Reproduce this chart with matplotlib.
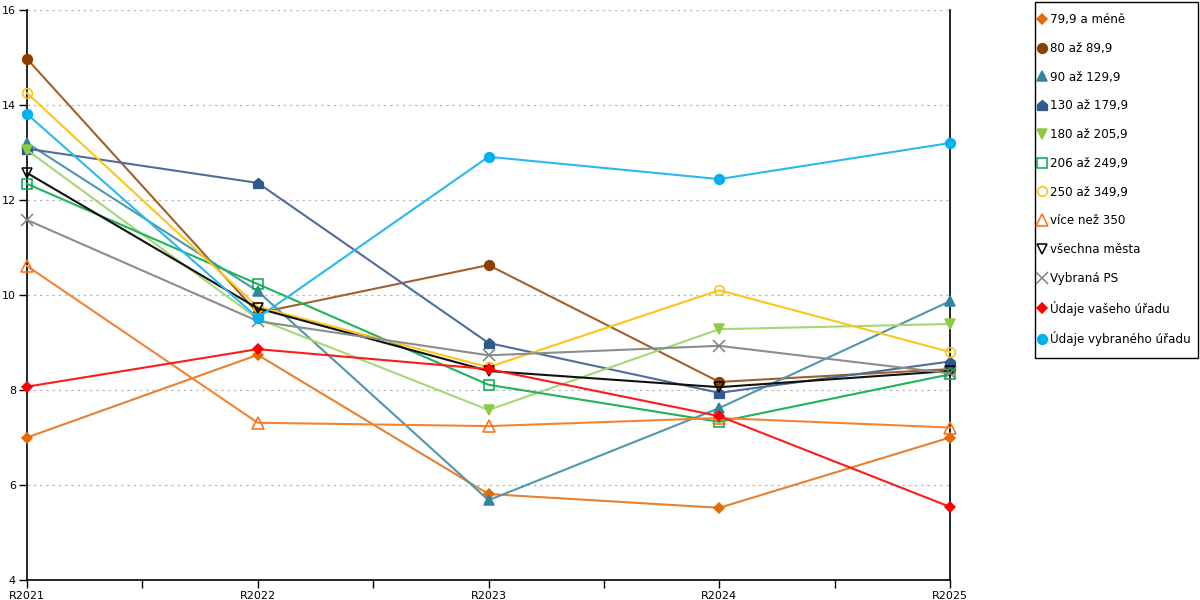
import matplotlib
matplotlib.use("Agg")
import matplotlib.pyplot as plt
from matplotlib.path import Path
from matplotlib.lines import Line2D
from matplotlib.patches import Rectangle

categories = ["R2021", "R2022", "R2023", "R2024", "R2025"]

s_79 = [7.00, 8.74, 5.81, 5.52, 7.00]
s_80 = [14.97, 9.62, 10.63, 8.17, 8.44]
s_90 = [13.20, 10.08, 5.68, 7.62, 9.87]
s_130 = [13.08, 12.36, 8.99, 7.94, 8.60]
s_180 = [13.05, 9.50, 7.58, 9.28, 9.39]
s_206 = [12.34, 10.23, 8.11, 7.33, 8.33]
s_250 = [14.25, 9.75, 8.48, 10.10, 8.80]
s_350 = [10.61, 7.31, 7.24, 7.41, 7.21]
s_all = [12.57, 9.72, 8.40, 8.06, 8.40]
s_ps = [11.58, 9.45, 8.73, 8.93, 8.35]
s_vas = [8.07, 8.86, 8.44, 7.45, 5.54]
s_vyb = [13.81, 9.52, 12.91, 12.44, 13.20]

labels = ["79,9 a méně", "80 až 89,9", "90 až 129,9", "130 až 179,9",
          "180 až 205,9", "206 až 249,9", "250 až 349,9", "více než 350",
          "všechna města", "Vybraná PS", "Údaje vašeho úřadu",
          "Údaje vybraného úřadu"]
series = [s_79, s_80, s_90, s_130, s_180, s_206, s_250, s_350, s_all, s_ps,
          s_vas, s_vyb]

house = Path([(-1, -1), (1, -1), (1, 0.15), (0, 1), (-1, 0.15), (-1, -1)],
             [Path.MOVETO, Path.LINETO, Path.LINETO, Path.LINETO, Path.LINETO,
              Path.CLOSEPOLY])

# (line colour, marker colour, marker, filled, marker size)
styles = [
    ("#E8802E", "#E36C0A", "D", True, 5.5),
    ("#A0602E", "#8B4000", "o", True, 7),
    ("#4E97AC", "#31859C", "^", True, 7.5),
    ("#4D6E9C", "#2E5A8C", house, True, 7),
    ("#A4D873", "#8CCC45", "v", True, 7.5),
    ("#1FB35A", "#00A84F", "s", False, 7),
    ("#FFC41A", "#FFC000", "o", False, 7),
    ("#F58233", "#FF6A10", "^", False, 8),
    ("#111111", "#000000", "v", False, 7.5),
    ("#8C8C8C", "#808080", "x", True, 8),
    ("#FF1A1A", "#FF0000", "D", True, 5.5),
    ("#29B8F0", "#00B0F0", "o", True, 7),
]

plt.rcParams["font.family"] = ["DejaVu Sans"]
fig = plt.figure(figsize=(12, 6), dpi=100)
ax = fig.add_axes([27 / 1200, 20 / 600, (950 - 27) / 1200, 570 / 600])

x = list(range(len(categories)))
handles = []
for data, lab, (lc, mc, mk, filled, ms) in zip(series, labels, styles):
    face = mc if filled else "none"
    ax.plot(x, data, color=lc, lw=1.5, marker=mk, markersize=ms,
            markerfacecolor=face, markeredgecolor=mc, markeredgewidth=1.1,
            clip_on=False, zorder=3)
    handles.append(Line2D([], [], linestyle="none", marker=mk,
                          markersize=ms, markerfacecolor=face,
                          markeredgecolor=mc, markeredgewidth=1.1, label=lab))

ax.set_xlim(0, len(categories) - 1)
ax.set_ylim(4, 16)
ax.set_yticks([4, 6, 8, 10, 12, 14, 16])
ax.set_xticks(x)
ax.set_xticklabels(categories)
ax.set_xticks([i + 0.5 for i in x[:-1]], minor=True)
ax.tick_params(axis="both", labelsize=8, length=6, width=1, color="black",
               direction="out", pad=2)
ax.tick_params(axis="x", which="minor", length=6, width=1)
ax.yaxis.grid(True, linestyle=(0, (2, 3)), color="#BBBBBB", lw=0.9)
ax.set_axisbelow(True)
ax.spines["top"].set_visible(False)
for s in ["left", "right", "bottom"]:
    ax.spines[s].set_color("black")
    ax.spines[s].set_linewidth(1.2)

# legend frame
fig.patches.append(Rectangle((1035 / 1200, 1 - 358 / 600), 163 / 1200,
                             356 / 600, transform=fig.transFigure,
                             facecolor="white", edgecolor="black", lw=1.0,
                             zorder=0))
leg = fig.legend(handles=handles, loc="upper left",
                 bbox_to_anchor=(1038 / 1200, 1 - 13.0 / 600),
                 frameon=False, fontsize=8.6, handlelength=0.7,
                 handletextpad=0.3, labelspacing=1.32, borderpad=0,
                 borderaxespad=0)

fig.savefig("out.png", dpi=100)
